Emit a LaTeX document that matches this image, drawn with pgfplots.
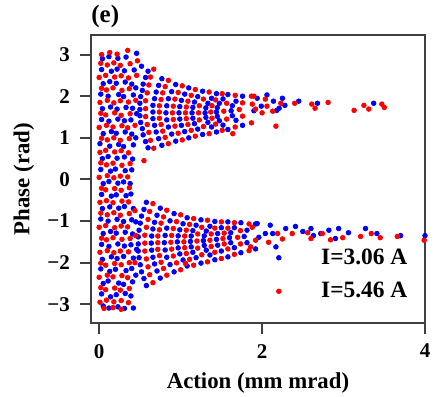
\documentclass[border=0pt]{standalone}
\usepackage{fontspec}
\setmainfont{Liberation Serif}
\usepackage{pgfplots}
\pgfplotsset{compat=1.18}
\definecolor{pblue}{RGB}{0,0,255}
\definecolor{pred}{RGB}{255,0,0}
\begin{document}
\begin{tikzpicture}
\begin{axis}[
  scale only axis, width=167pt, height=144pt,
  xmin=-0.1, xmax=4, ymin=-3.45, ymax=3.47,
  xtick={0,2,4}, ytick={-3,-2,-1,0,1,2,3},
  yticklabels={−3,−2,−1,0,1,2,3},
  tick align=outside, tick pos=left,
  major tick length=5.5pt,
  axis line style={black!75, line width=1pt},
  tick style={black!75, line width=1pt},
  /pgf/number format/assume math mode=true,
  ticklabel style={font=\fontsize{10.5}{12}\selectfont\bfseries},
  yticklabel style={xshift=-1.5pt},
  xticklabel style={yshift=-1.5pt},
  xlabel={Action (mm mrad)}, ylabel={Phase (rad)},
  every axis x label/.style={at={(axis description cs:0.5,-0.2083)}, anchor=center, font=\fontsize{11.4}{13}\selectfont\bfseries},
  every axis y label/.style={at={(axis description cs:-0.2006,0.5)}, anchor=center, rotate=90, font=\fontsize{11.4}{13}\selectfont\bfseries},
  legend image code/.code={\draw[#1] plot coordinates {(0pt,0pt)}; \path (-1pt,0pt) (19pt,0pt);},
  legend style={draw=none, fill=none, at={(rel axis cs:0.536,0.288)}, anchor=north west,
    font=\fontsize{11.7}{14}\selectfont\bfseries, row sep=3.5pt, cells={anchor=west}},
]
\addplot[only marks, mark=*, mark size=1.15pt, color=pblue, mark options={draw=none, fill=pblue}] coordinates {
(0.05,-3.04) (0.12,-3.09) (0.23,-3.06) (0.31,-3.10) (0.42,-3.09)
(0.03,-2.75) (0.14,-2.82) (0.21,-2.77) (0.32,-2.74) (0.39,-2.80)
(0.05,-2.50) (0.11,-2.44) (0.24,-2.49) (0.30,-2.52) (0.41,-2.46)
(0.02,-2.15) (0.13,-2.21) (0.20,-2.16) (0.33,-2.19) (0.40,-2.14)
(0.04,-1.92) (0.15,-1.86) (0.22,-1.90) (0.30,-1.85) (0.42,-1.89)
(0.03,-1.56) (0.12,-1.61) (0.23,-1.55) (0.31,-1.60) (0.39,-1.57)
(0.05,-1.30) (0.14,-1.25) (0.21,-1.29) (0.32,-1.27) (0.41,-1.31)
(0.02,-0.95) (0.11,-1.00) (0.22,-0.96) (0.30,-1.01) (0.40,-0.97)
(0.04,-0.70) (0.13,-0.66) (0.24,-0.69) (0.31,-0.65) (0.42,-0.70)
(0.03,-0.36) (0.15,-0.40) (0.21,-0.37) (0.33,-0.39) (0.39,-0.35)
(0.05,-0.10) (0.12,-0.05) (0.23,-0.09) (0.30,-0.06) (0.38,-0.10)
(0.02,0.24) (0.14,0.20) (0.20,0.25) (0.32,0.21) (0.40,0.23)
(0.04,0.50) (0.11,0.55) (0.22,0.51) (0.31,0.54) (0.41,0.49)
(0.01,0.86) (0.13,0.80) (0.24,0.84) (0.30,0.79) (0.42,0.83)
(0.05,1.10) (0.15,1.15) (0.21,1.11) (0.32,1.14) (0.40,1.09)
(0.03,1.44) (0.12,1.40) (0.23,1.45) (0.31,1.41) (0.39,1.43)
(0.04,1.70) (0.14,1.74) (0.22,1.69) (0.33,1.73) (0.41,1.71)
(0.02,2.05) (0.11,2.00) (0.24,2.04) (0.30,1.99) (0.42,2.03)
(0.05,2.30) (0.13,2.35) (0.21,2.31) (0.32,2.34) (0.40,2.29)
(0.03,2.64) (0.15,2.60) (0.22,2.65) (0.31,2.61) (0.43,2.63)
(0.04,2.90) (0.12,2.95) (0.23,2.91) (0.33,2.94) (0.46,3.03)
(0.52,2.72) (0.45,1.00) (0.46,1.58) (0.45,2.20) (0.45,-2.30) (0.46,-1.68) (0.45,-1.02)
(0.60,0.76) (0.57,0.91) (0.54,1.07) (0.53,1.22) (0.51,1.37) (0.50,1.53) (0.50,1.68) (0.50,1.83) (0.51,1.99) (0.53,2.14) (0.54,2.29) (0.57,2.45) (0.60,2.60)
(0.77,0.82) (0.73,0.98) (0.70,1.14) (0.68,1.30) (0.66,1.46) (0.66,1.62) (0.66,1.78) (0.68,1.94) (0.70,2.10) (0.73,2.26) (0.77,2.42)
(0.94,0.92) (0.89,1.09) (0.85,1.26) (0.83,1.43) (0.82,1.60) (0.83,1.77) (0.85,1.94) (0.89,2.11) (0.94,2.28)
(1.10,1.00) (1.05,1.15) (1.01,1.30) (0.99,1.45) (0.98,1.60) (0.99,1.75) (1.01,1.90) (1.05,2.05) (1.10,2.20)
(1.27,1.08) (1.21,1.21) (1.17,1.34) (1.15,1.47) (1.14,1.60) (1.15,1.73) (1.17,1.86) (1.21,1.99) (1.27,2.12)
(1.44,1.14) (1.38,1.26) (1.335,1.37) (1.31,1.49) (1.30,1.60) (1.31,1.72) (1.335,1.83) (1.38,1.95) (1.44,2.06)
(1.58,1.20) (1.52,1.305) (1.475,1.41) (1.45,1.515) (1.44,1.62) (1.45,1.725) (1.475,1.83) (1.52,1.935) (1.58,2.04)
(1.76,1.30) (1.68,1.42) (1.635,1.53) (1.62,1.65) (1.635,1.77) (1.68,1.88) (1.76,2.00)
(0.58,-2.55) (0.55,-2.38) (0.52,-2.22) (0.505,-2.05) (0.49,-1.88) (0.48,-1.72) (0.48,-1.55) (0.48,-1.38) (0.49,-1.22) (0.505,-1.05) (0.52,-0.88) (0.55,-0.72) (0.58,-0.55)
(0.75,-2.37) (0.71,-2.20) (0.68,-2.03) (0.66,-1.87) (0.645,-1.70) (0.64,-1.53) (0.645,-1.36) (0.66,-1.19) (0.68,-1.03) (0.71,-0.86) (0.75,-0.69)
(0.92,-2.22) (0.87,-2.045) (0.83,-1.87) (0.81,-1.695) (0.80,-1.52) (0.81,-1.345) (0.83,-1.17) (0.87,-0.995) (0.92,-0.82)
(1.08,-2.08) (1.03,-1.935) (0.99,-1.79) (0.97,-1.645) (0.96,-1.50) (0.97,-1.355) (0.99,-1.21) (1.03,-1.065) (1.08,-0.92)
(1.25,-2.01) (1.19,-1.88) (1.15,-1.75) (1.13,-1.62) (1.12,-1.49) (1.13,-1.36) (1.15,-1.23) (1.19,-1.10) (1.25,-0.97)
(1.42,-1.93) (1.36,-1.815) (1.315,-1.70) (1.29,-1.585) (1.28,-1.47) (1.29,-1.355) (1.315,-1.24) (1.36,-1.125) (1.42,-1.01)
(1.58,-1.86) (1.50,-1.72) (1.455,-1.58) (1.44,-1.44) (1.455,-1.30) (1.50,-1.16) (1.58,-1.02)
(1.74,-1.76) (1.66,-1.64) (1.615,-1.52) (1.60,-1.40) (1.615,-1.28) (1.66,-1.16) (1.74,-1.04)
(1.92,-1.67) (1.815,-1.52) (1.78,-1.37) (1.815,-1.22) (1.92,-1.07)
(1.94,1.95) (1.90,1.65) (1.99,1.76) (2.06,2.03) (2.14,1.88) (2.18,1.66) (2.21,1.71) (2.25,1.95) (2.28,1.78) (2.45,1.88) (2.68,1.83) (3.37,1.83)
(1.94,-1.06) (1.96,-1.39) (2.04,-1.30) (2.10,-1.10) (2.17,-1.62) (2.13,-1.30) (2.29,-1.18) (2.41,-1.13) (2.50,-1.25) (2.60,-1.18) (2.63,-1.35) (2.72,-1.30) (2.82,-1.22) (2.90,-1.42) (2.94,-1.18) (3.06,-1.28) (3.27,-1.18) (3.41,-1.30) (3.70,-1.35) (4.00,-1.35)
};
\addlegendentry{I=3.06 A}
\addplot[only marks, mark=*, mark size=1.15pt, color=pred, mark options={draw=none, fill=pred}] coordinates {
(0.06,-3.10) (0.17,-3.08) (0.27,-3.12)
(0.01,-2.95) (0.09,-2.90) (0.18,-2.94) (0.27,-2.91) (0.36,-2.96)
(0.02,-2.60) (0.08,-2.65) (0.19,-2.61) (0.26,-2.66) (0.37,-2.62)
(0.00,-2.35) (0.10,-2.30) (0.17,-2.34) (0.28,-2.31) (0.35,-2.36)
(0.02,-2.01) (0.08,-2.06) (0.19,-2.02) (0.27,-2.05) (0.37,-2.00)
(0.01,-1.75) (0.10,-1.71) (0.18,-1.76) (0.26,-1.72) (0.36,-1.74)
(0.03,-1.41) (0.09,-1.45) (0.17,-1.40) (0.28,-1.44) (0.38,-1.42)
(0.00,-1.15) (0.08,-1.11) (0.19,-1.16) (0.27,-1.12) (0.35,-1.14)
(0.02,-0.81) (0.10,-0.85) (0.18,-0.80) (0.26,-0.86) (0.37,-0.82)
(0.01,-0.55) (0.09,-0.51) (0.17,-0.56) (0.28,-0.52) (0.36,-0.54)
(0.03,-0.21) (0.08,-0.25) (0.19,-0.22) (0.27,-0.26) (0.37,-0.20)
(0.00,0.05) (0.10,0.09) (0.18,0.04) (0.26,0.08) (0.35,0.06)
(0.02,0.40) (0.09,0.35) (0.17,0.39) (0.28,0.34) (0.38,0.38) (0.55,0.45)
(0.01,0.65) (0.08,0.70) (0.19,0.66) (0.27,0.69) (0.36,0.64)
(0.03,0.99) (0.10,0.95) (0.18,1.00) (0.26,0.94) (0.37,0.98)
(0.00,1.25) (0.09,1.30) (0.17,1.26) (0.28,1.29) (0.35,1.24)
(0.02,1.59) (0.08,1.55) (0.19,1.60) (0.27,1.54) (0.38,1.58)
(0.01,1.85) (0.10,1.90) (0.18,1.84) (0.26,1.89) (0.36,1.86)
(0.03,2.19) (0.09,2.15) (0.17,2.20) (0.28,2.14) (0.37,2.18)
(0.00,2.45) (0.08,2.50) (0.19,2.46) (0.27,2.49) (0.36,2.44)
(0.02,2.79) (0.10,2.75) (0.18,2.80) (0.26,2.74) (0.38,2.78)
(0.03,3.00) (0.13,3.05) (0.22,3.01) (0.35,3.10) (0.47,2.85)
(0.44,1.30) (0.45,1.90) (0.46,2.50) (0.44,-2.00) (0.45,-1.35) (0.44,-0.75)
(0.67,0.75) (0.63,0.94) (0.61,1.13) (0.59,1.32) (0.57,1.51) (0.57,1.70) (0.57,1.89) (0.59,2.08) (0.61,2.27) (0.63,2.46) (0.67,2.65)
(0.85,0.86) (0.81,1.01) (0.78,1.16) (0.76,1.32) (0.74,1.47) (0.74,1.62) (0.74,1.77) (0.76,1.92) (0.78,2.08) (0.81,2.23) (0.85,2.38)
(1.02,0.95) (0.97,1.11) (0.93,1.28) (0.91,1.44) (0.90,1.60) (0.91,1.76) (0.93,1.93) (0.97,2.09) (1.02,2.25)
(1.18,1.04) (1.13,1.18) (1.09,1.32) (1.07,1.46) (1.06,1.60) (1.07,1.74) (1.09,1.88) (1.13,2.02) (1.18,2.16)
(1.35,1.10) (1.28,1.27) (1.23,1.43) (1.22,1.60) (1.23,1.77) (1.28,1.93) (1.35,2.10)
(1.51,1.18) (1.43,1.33) (1.385,1.47) (1.37,1.62) (1.385,1.77) (1.43,1.91) (1.51,2.06)
(1.67,1.26) (1.565,1.45) (1.53,1.64) (1.565,1.83) (1.67,2.02)
(1.87,1.36) (1.76,1.52) (1.72,1.68) (1.76,1.84) (1.87,2.00)
(0.66,-2.48) (0.62,-2.29) (0.60,-2.10) (0.58,-1.91) (0.56,-1.72) (0.56,-1.53) (0.56,-1.34) (0.58,-1.15) (0.60,-0.96) (0.62,-0.77) (0.66,-0.58)
(0.83,-2.30) (0.79,-2.14) (0.76,-1.99) (0.74,-1.83) (0.72,-1.68) (0.72,-1.52) (0.72,-1.36) (0.74,-1.21) (0.76,-1.05) (0.79,-0.90) (0.83,-0.74)
(1.00,-2.17) (0.95,-2.005) (0.91,-1.84) (0.89,-1.675) (0.88,-1.51) (0.89,-1.345) (0.91,-1.18) (0.95,-1.015) (1.00,-0.85)
(1.16,-2.06) (1.11,-1.92) (1.07,-1.78) (1.05,-1.64) (1.04,-1.50) (1.05,-1.36) (1.07,-1.22) (1.11,-1.08) (1.16,-0.94)
(1.33,-1.98) (1.26,-1.81) (1.21,-1.65) (1.20,-1.48) (1.21,-1.31) (1.26,-1.15) (1.33,-0.98)
(1.50,-1.90) (1.42,-1.75) (1.375,-1.61) (1.36,-1.46) (1.375,-1.31) (1.42,-1.17) (1.50,-1.02)
(1.66,-1.80) (1.58,-1.67) (1.535,-1.55) (1.52,-1.42) (1.535,-1.29) (1.58,-1.17) (1.66,-1.04)
(1.84,-1.71) (1.735,-1.55) (1.70,-1.39) (1.735,-1.23) (1.84,-1.07)
(1.90,2.00) (1.88,1.81) (1.92,1.69) (2.00,1.60) (2.04,1.93) (2.06,1.76) (2.13,1.64) (2.23,1.83) (2.17,1.28) (2.40,1.83) (2.61,1.81) (2.65,1.71) (2.81,1.85) (3.13,1.66) (3.25,1.78) (3.31,1.69) (3.47,1.81) (3.50,1.73) (1.64,1.10)
(1.88,-1.15) (1.86,-1.62) (1.92,-1.46) (2.08,-1.51) (2.19,-1.30) (2.25,-1.43) (2.37,-1.30) (2.56,-1.28) (2.60,-1.42) (2.74,-1.30) (2.84,-1.45) (2.99,-1.40) (3.21,-1.37) (3.34,-1.30) (3.45,-1.40) (3.66,-1.37) (3.99,-1.46) (1.06,-2.02)
};
\addlegendentry{I=5.46 A}
\end{axis}
\node[anchor=west, inner sep=0pt, font=\fontsize{12.5}{14}\selectfont\bfseries] at ([yshift=9.5pt]current axis.north west) {(e)};
\pgfresetboundingbox
\path ([shift={(-45.5pt,-36.5pt)}]current axis.south west) rectangle ([shift={(5.5pt,17.5pt)}]current axis.north east);
\end{tikzpicture}
\end{document}
